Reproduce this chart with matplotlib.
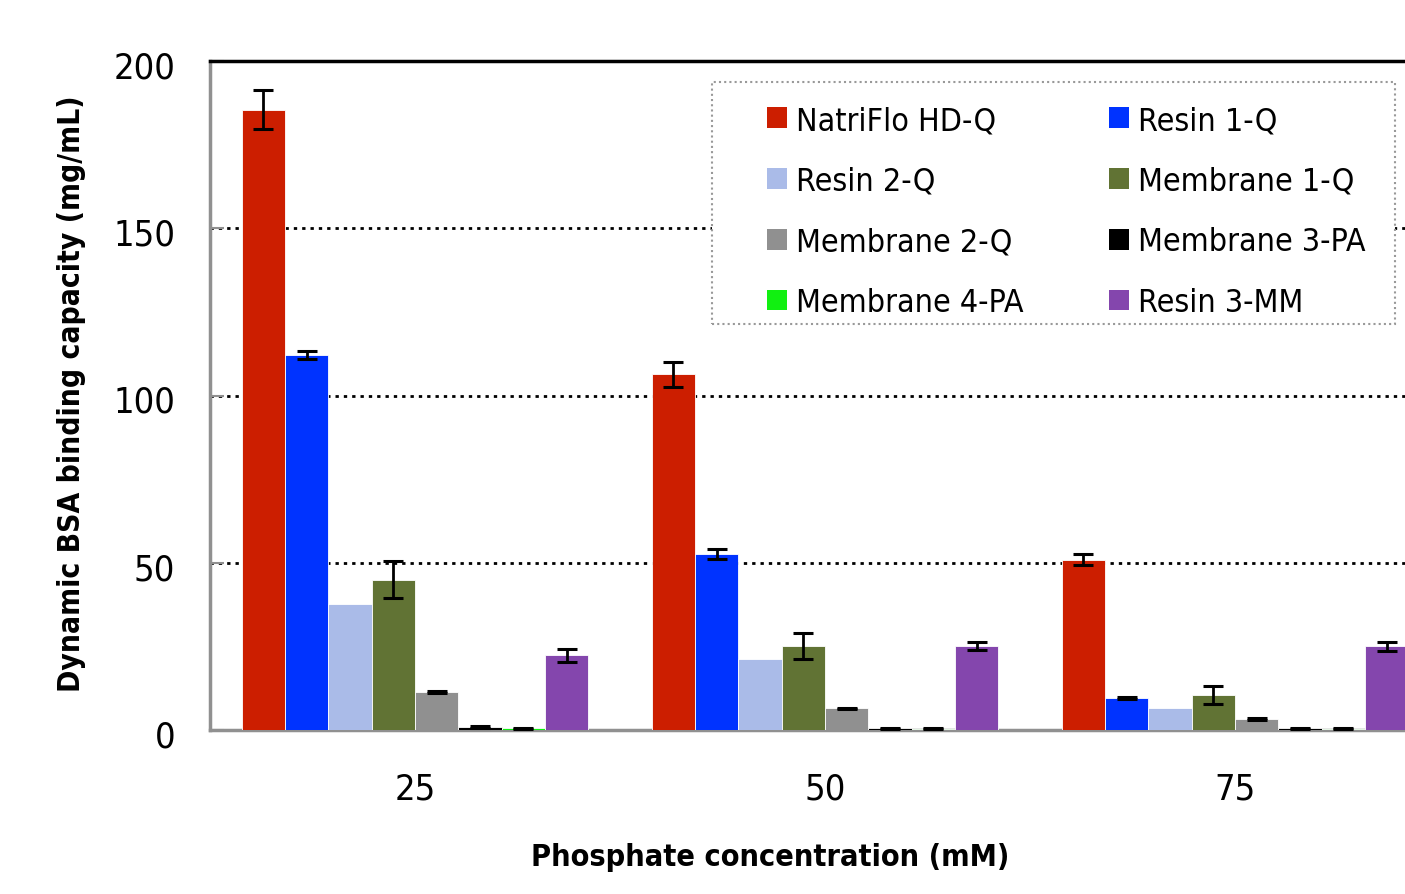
import matplotlib
matplotlib.use("Agg")
import matplotlib.pyplot as plt
import numpy as np
from matplotlib.patches import Patch, Rectangle
from matplotlib.transforms import ScaledTranslation

plt.rcParams['font.family'] = ['DejaVu Sans']
plt.rcParams['font.stretch'] = 'condensed'

categories = ["25", "50", "75"]
series = ["NatriFlo HD-Q", "Resin 1-Q", "Resin 2-Q", "Membrane 1-Q",
          "Membrane 2-Q", "Membrane 3-PA", "Membrane 4-PA", "Resin 3-MM"]
colors = ["#CC1E00", "#0033FF", "#AABBE8", "#617334",
          "#909090", "#000000", "#11F011", "#8446AD"]

natriflo = [185.5, 106.3, 50.9]
resin1 = [112.0, 52.6, 9.6]
resin2 = [37.8, 21.2, 6.5]
membrane1 = [44.9, 25.1, 10.4]
membrane2 = [11.4, 6.5, 3.3]
membrane3 = [0.8, 0.5, 0.5]
membrane4 = [0.5, 0.4, 0.4]
resin3 = [22.3, 25.1, 25.1]

natriflo_err = [5.8, 3.8, 1.7]
resin1_err = [1.2, 1.45, 0.3]
resin2_err = [0.0, 0.0, 0.0]
membrane1_err = [5.5, 3.9, 2.7]
membrane2_err = [0.3, 0.2, 0.2]
membrane3_err = [0.3, 0.2, 0.2]
membrane4_err = [0.2, 0.2, 0.2]
resin3_err = [2.0, 1.3, 1.35]

values = [natriflo, resin1, resin2, membrane1, membrane2, membrane3, membrane4, resin3]
errors = [natriflo_err, resin1_err, resin2_err, membrane1_err,
          membrane2_err, membrane3_err, membrane4_err, resin3_err]

fig = plt.figure(figsize=(14.05, 8.95), dpi=100)
W, H = 1405, 895
ax = fig.add_axes([210 / W, 1 - 731 / H, 1230 / W, (731 - 62) / H])

x = np.arange(len(categories))
n = len(series)
bw = 0.846 / n
for i, (vals, errs, c) in enumerate(zip(values, errors, colors)):
    pos = x - 0.423 + bw * (i + 0.5)
    ax.bar(pos, vals, width=bw, color=c, edgecolor="white", linewidth=0.6, zorder=3)
    e = np.array(errs)
    mask = e > 0
    if mask.any():
        ax.errorbar(pos[mask], np.array(vals)[mask], yerr=e[mask], fmt="none",
                    ecolor="black", elinewidth=2, capsize=7, capthick=2.2, zorder=4)

ax.set_xlim(-0.5, 2.5)
ax.set_ylim(0, 200)
ax.set_yticks([0, 50, 100, 150, 200])
ax.set_xticks(x)
ax.set_xticklabels(categories)
ax.tick_params(axis="x", length=0, labelsize=26, pad=30)
ax.tick_params(axis="y", direction="in", length=10, width=1.5, color="#909090",
               labelsize=26, pad=25)
for t in ax.get_yticklabels():
    t.set_transform(t.get_transform() + ScaledTranslation(0, -3 / 100, fig.dpi_scale_trans))

ax.yaxis.grid(True, linestyle=(0, (1.2, 1.8)), color="black", linewidth=2, zorder=1)
ax.set_axisbelow(True)

ax.spines["left"].set_color("#909090")
ax.spines["left"].set_linewidth(2.5)
ax.spines["bottom"].set_color("#909090")
ax.spines["bottom"].set_linewidth(2.5)
ax.spines["top"].set_color("black")
ax.spines["top"].set_linewidth(2.5)
ax.spines["right"].set_visible(False)

fig.text(72 / W, 1 - 394 / H, "Dynamic BSA binding capacity (mg/mL)", rotation=90,
         ha="center", va="center", fontsize=21.5, fontweight="bold")
fig.text(770 / W, 1 - 858 / H, "Phosphate concentration (mM)",
         ha="center", va="center", fontsize=22, fontweight="bold")

# legend frame
box = Rectangle((712 / W, 1 - 325 / H), (1395 - 712) / W, (325 - 83) / H,
                transform=fig.transFigure, facecolor="white", edgecolor="#999999",
                linestyle=(0, (1, 1.5)), linewidth=1.5, zorder=5, clip_on=False)
ax.add_artist(box)

col1 = [0, 2, 4, 6]
col2 = [1, 3, 5, 7]
legs = []
for col, xl in ((col1, 767), (col2, 1109)):
    hs = [Patch(facecolor=colors[i], edgecolor="none") for i in col]
    ls = [series[i] for i in col]
    lg = ax.legend(hs, ls, loc="upper left",
                   bbox_to_anchor=(xl / W, 1 - 106 / H),
                   bbox_transform=fig.transFigure,
                   fontsize=23, frameon=False,
                   handlelength=0.62, handleheight=0.62, handletextpad=0.28,
                   labelspacing=0.93, borderpad=0, borderaxespad=0)
    lg.set_zorder(6)
    legs.append(lg)
ax.add_artist(legs[0])

fig.savefig("out.png", dpi=100)
